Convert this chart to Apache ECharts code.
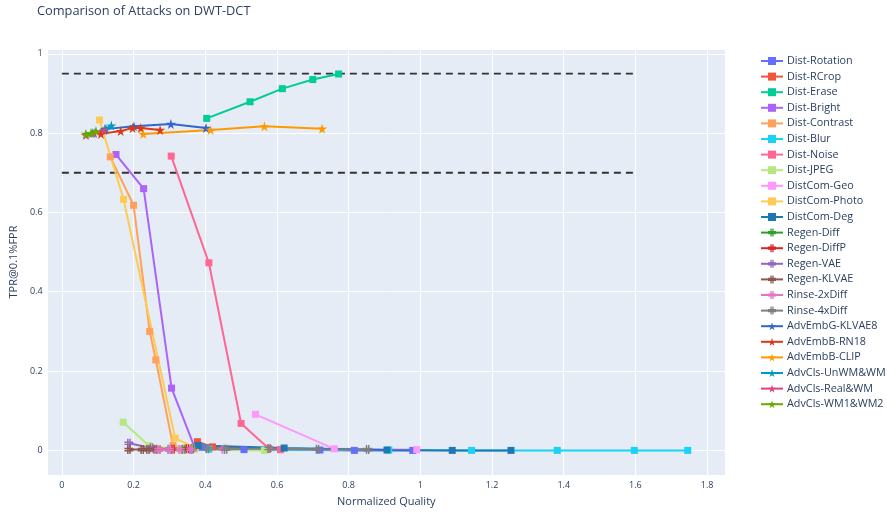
<!DOCTYPE html>
<html>
<head>
<meta charset="utf-8">
<script src="https://cdn.jsdelivr.net/npm/echarts@6/dist/echarts.min.js"></script>
<style>
html,body{margin:0;padding:0;background:#fff;}
#chart{width:887px;height:512px;}
</style>
</head>
<body>
<div id="chart"></div>
<script>
// ---- data (x = Normalized Quality, y = TPR@0.1%FPR) ----
const seriesNames = ["Dist-Rotation","Dist-RCrop","Dist-Erase","Dist-Bright","Dist-Contrast","Dist-Blur","Dist-Noise","Dist-JPEG","DistCom-Geo","DistCom-Photo","DistCom-Deg","Regen-Diff","Regen-DiffP","Regen-VAE","Regen-KLVAE","Rinse-2xDiff","Rinse-4xDiff","AdvEmbG-KLVAE8","AdvEmbB-RN18","AdvEmbB-CLIP","AdvCls-UnWM&WM","AdvCls-Real&WM","AdvCls-WM1&WM2"];
const distRotation = [[0.39,0.008],[0.508,0.002],[0.72,0.001],[0.816,0.0],[0.979,0.0]];
const distRCrop = [[0.378,0.022],[0.42,0.009],[0.61,0.002]];
const distErase = [[0.404,0.837],[0.525,0.879],[0.615,0.912],[0.70,0.935],[0.772,0.949]];
const distBright = [[0.151,0.746],[0.228,0.66],[0.306,0.157],[0.37,0.008]];
const distContrast = [[0.135,0.74],[0.2,0.618],[0.245,0.30],[0.262,0.228],[0.31,0.012],[0.37,0.004]];
const distBlur = [[0.41,0.003],[0.57,0.002],[0.912,0.001],[1.143,0.0],[1.382,0.0],[1.597,0.0],[1.746,0.0]];
const distNoise = [[0.305,0.742],[0.41,0.473],[0.50,0.068],[0.577,0.005],[0.61,0.002]];
const distJPEG = [[0.171,0.071],[0.243,0.012],[0.33,0.003],[0.565,0.0]];
const distComGeo = [[0.54,0.091],[0.76,0.004],[0.99,0.002]];
const distComPhoto = [[0.105,0.833],[0.172,0.633],[0.316,0.031],[0.372,0.006]];
const distComDeg = [[0.38,0.0125],[0.62,0.006],[0.907,0.001],[1.089,0.0],[1.253,0.0]];
const regenDiff = [[0.30,0.002],[0.34,0.003],[0.364,0.004]];
const regenDiffP = [[0.27,0.002],[0.31,0.003],[0.35,0.004]];
const regenVAE = [[0.187,0.018],[0.25,0.006],[0.30,0.003],[0.36,0.002]];
const regenKLVAE = [[0.187,0.002],[0.224,0.002],[0.24,0.002],[0.26,0.003]];
const rinse2xDiff = [[0.27,0.002],[0.30,0.002],[0.33,0.002],[0.36,0.003],[0.45,0.003]];
const rinse4xDiff = [[0.406,0.004],[0.457,0.003],[0.578,0.005],[0.713,0.003],[0.853,0.002]];
const advEmbGKLVAE8 = [[0.12,0.81],[0.201,0.817],[0.304,0.823],[0.402,0.813]];
const advEmbBRN18 = [[0.109,0.798],[0.164,0.805],[0.197,0.813],[0.22,0.813],[0.274,0.808]];
const advEmbBCLIP = [[0.227,0.798],[0.415,0.808],[0.565,0.817],[0.726,0.811]];
const advClsUnWMWM = [[0.085,0.80],[0.123,0.811],[0.138,0.819]];
const advClsRealWM = [[0.067,0.795],[0.09,0.80],[0.118,0.807]];
const advClsWM1WM2 = [[0.067,0.798],[0.081,0.80],[0.095,0.805]];
const thresholdLevels = [0.95, 0.7];
const thresholdSpan = [0, 1.6];

const seriesData = [distRotation,distRCrop,distErase,distBright,distContrast,distBlur,distNoise,distJPEG,distComGeo,distComPhoto,distComDeg,regenDiff,regenDiffP,regenVAE,regenKLVAE,rinse2xDiff,rinse4xDiff,advEmbGKLVAE8,advEmbBRN18,advEmbBCLIP,advClsUnWMWM,advClsRealWM,advClsWM1WM2];
const colors = ["#636EFA","#EF553B","#00CC96","#AB63FA","#FFA15A","#19D3F3","#FF6692","#B6E880","#FF97FF","#FECB52","#1F77B4","#2CA02C","#D62728","#9467BD","#8C564B","#E377C2","#7F7F7F","#3366CC","#DC3912","#FF9900","#0099C6","#DD4477","#66AA00"];

const SQUARE = 'rect';
const HASH = 'path://M3,0H4.6V10H3Z M5.4,0H7V10H5.4Z M0,3H10V4.6H0Z M0,5.4H10V7H0Z';
const STAR = 'path://M50,0L61,35L98,35L68,57L79,91L50,70L21,91L32,57L2,35L39,35Z';

function symbolFor(name){
  if (name.startsWith('Dist')) return [SQUARE, 7];
  if (name.startsWith('Regen') || name.startsWith('Rinse')) return [HASH, 9];
  return [STAR, 10];
}

const series = seriesNames.map((n,i)=>{
  const s = symbolFor(n);
  return {
    name: n, type: 'line', data: seriesData[i],
    symbol: s[0], symbolSize: s[1], showSymbol: true,
    lineStyle: {width: 2, color: colors[i]},
    itemStyle: {color: colors[i]},
    emphasis: {disabled: true}, animation: false
  };
});
thresholdLevels.forEach((lv,k)=>{
  series.push({
    name: 'thr'+k, type: 'line', data: thresholdSpan.map(x=>[x,lv]),
    symbol: 'none', lineStyle: {color: '#333', width: 1.8, type: [7,5]},
    z: 1, animation: false, silent: true
  });
});

const chart = echarts.init(document.getElementById('chart'), null, {renderer:'canvas'});
const fontFam = '"Open Sans", "Noto Sans", sans-serif';
chart.setOption({
  animation: false,
  textStyle: {fontFamily: fontFam},
  title: {text: 'Comparison of Attacks on DWT-DCT', left: 32, top: 0,
    textStyle: {fontFamily: fontFam, fontSize: 12.8, fontWeight: 'normal', color: '#2a3f5f'}},
  grid: {left: 47, right: 162, top: 49, bottom: 33, backgroundColor: '#E5ECF6', show: true, borderWidth: 0},
  legend: {
    data: seriesNames, orient: 'vertical', left: 755, top: 50,
    itemWidth: 22, itemHeight: 10, itemGap: 3.6,
    textStyle: {fontFamily: fontFam, fontSize: 10.8, lineHeight: 12, color: '#2a3f5f', padding: [0,0,0,-1]}
  },
  xAxis: {
    type: 'value', min: -0.04, max: 1.85, splitNumber: 9,
    name: 'Normalized Quality', nameLocation: 'middle', nameGap: 21,
    nameTextStyle: {fontFamily: fontFam, fontSize: 11, color: '#2a3f5f'},
    axisLine: {show: false}, axisTick: {show: false},
    axisLabel: {fontFamily: fontFam, fontSize: 9, color: '#2a3f5f', margin: 6, showMinLabel: false, showMaxLabel: false},
    splitLine: {show: true, lineStyle: {color: '#ffffff', width: 1}}
  },
  yAxis: {
    type: 'value', min: -0.062, max: 1.012, splitNumber: 5,
    name: 'TPR@0.1%FPR', nameLocation: 'middle', nameGap: 27,
    nameTextStyle: {fontFamily: fontFam, fontSize: 11, color: '#2a3f5f'},
    axisLine: {show: false}, axisTick: {show: false},
    axisLabel: {fontFamily: fontFam, fontSize: 9, color: '#2a3f5f', margin: 5, showMinLabel: false, showMaxLabel: false},
    splitLine: {show: true, lineStyle: {color: '#ffffff', width: 1}}
  },
  series: series
});
</script>
</body>
</html>
